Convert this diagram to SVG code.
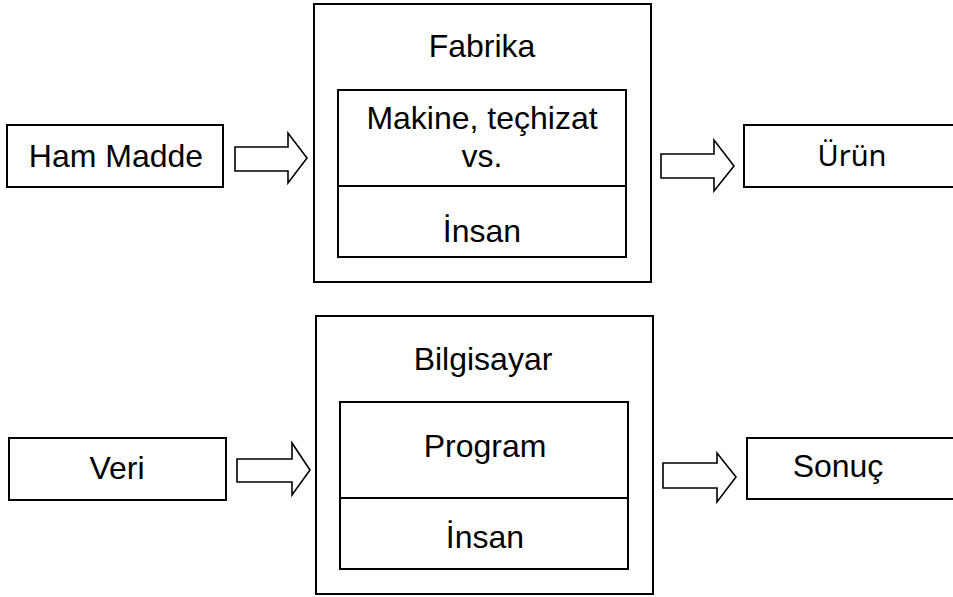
<svg xmlns="http://www.w3.org/2000/svg" width="953" height="597" viewBox="0 0 953 597">
<style>
.box{fill:#fff;stroke:#000;stroke-width:2}
.arr{fill:#fff;stroke:#000;stroke-width:1.6;stroke-linejoin:miter}
.t{font-family:"Liberation Sans",Arial,sans-serif;font-size:32px;fill:#000;text-anchor:middle}
.t2{font-family:"Noto Sans",sans-serif;font-size:29px;fill:#000;text-anchor:middle}
</style>
<rect width="953" height="597" fill="#fff"/>
<g id="hammadde"><rect class="box" x="7" y="125" width="216" height="62"/><text class="t" x="116" y="167">Ham Madde</text></g>
<g id="fabrika">
<rect class="box" x="314" y="4" width="337" height="278"/>
<text class="t" x="482" y="57">Fabrika</text>
<rect class="box" x="338" y="90" width="288" height="167"/>
<line class="box" x1="338" y1="186" x2="626" y2="186"/>
<text class="t" x="482" y="129">Makine, teçhizat</text>
<text class="t" x="482" y="167">vs.</text>
<text class="t" x="482" y="242">İnsan</text>
</g>
<g id="urun"><rect class="box" x="744" y="125" width="220" height="62"/><text class="t2" x="852" y="166">Ürün</text></g>
<g id="veri"><rect class="box" x="9" y="438" width="217" height="62"/><text class="t" x="117" y="479">Veri</text></g>
<g id="bilgisayar">
<rect class="box" x="316" y="316" width="337" height="278"/>
<text class="t" x="483" y="370">Bilgisayar</text>
<rect class="box" x="340" y="402" width="288" height="167"/>
<line class="box" x1="340" y1="498" x2="628" y2="498"/>
<text class="t" x="485" y="457">Program</text>
<text class="t" x="485" y="548">İnsan</text>
</g>
<g id="sonuc"><rect class="box" x="747" y="438" width="220" height="61"/><text class="t" x="838" y="477">Sonuç</text></g>
<g id="connectors">
<polygon class="arr" points="235,147 288,147 288,133 307,158 288,183 288,171 235,171"/>
<polygon class="arr" points="661,154 714,154 714,140 734,166 714,191 714,178 661,178"/>
<polygon class="arr" points="237,459 292,459 292,443 310,470 292,495 292,482 237,482"/>
<polygon class="arr" points="663,463 717,463 717,453 736,477 717,502 717,488 663,488"/>
</g>
</svg>
